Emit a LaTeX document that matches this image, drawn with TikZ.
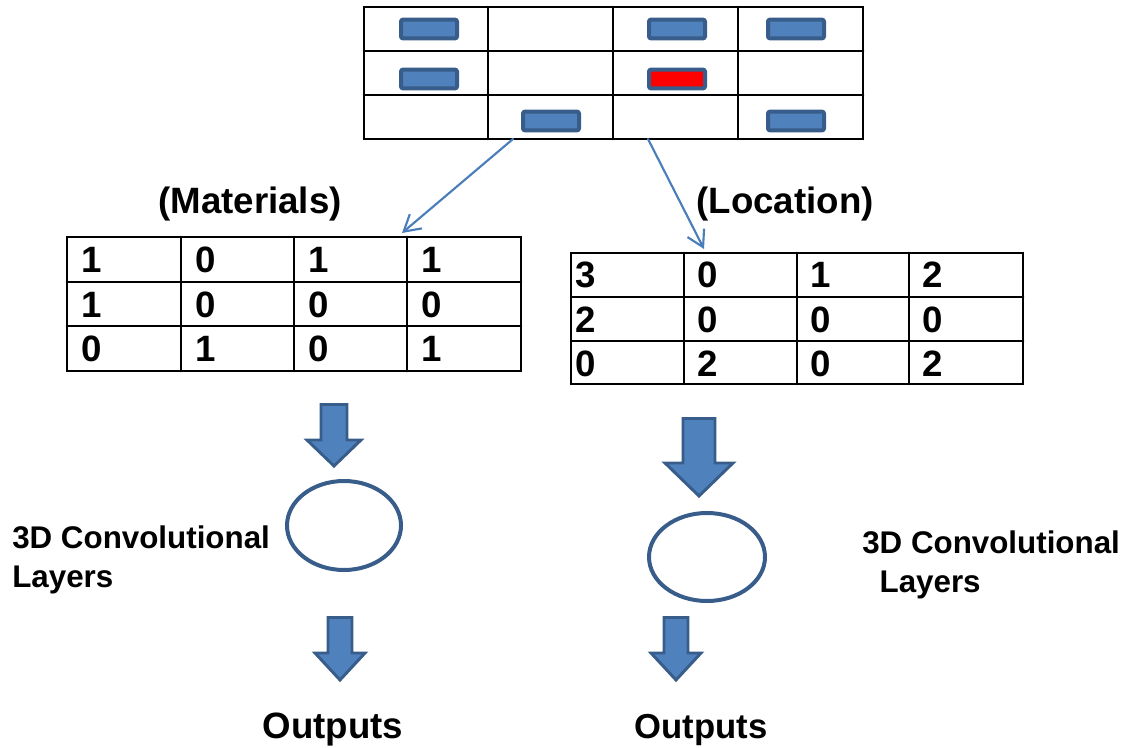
\documentclass[tikz,border=0pt]{standalone}
\usepackage{fontspec}
\setmainfont{Liberation Sans}
\usepackage{tikz}
\usetikzlibrary{arrows.meta}
\definecolor{cellblue}{RGB}{79, 129, 189}
\definecolor{darkblue}{RGB}{56, 93, 138}
\definecolor{lineblue}{RGB}{74, 126, 187}
\definecolor{hotred}{RGB}{255, 0, 0}
\def\bigtext{\fontsize{27.5}{33}\selectfont\bfseries}
\def\midtext{\fontsize{23.5}{29}\selectfont\bfseries}
\tikzset{
  gridline/.style={black, line width=2pt},
  brick/.style={draw=darkblue, fill=cellblue, line width=3pt, rounded corners=1.5pt,
    minimum width=42pt, minimum height=14pt, inner sep=0pt},
  num/.style={anchor=base west, inner sep=0pt, font=\bigtext},
  title/.style={anchor=base, inner sep=0pt, font=\bigtext},
  blockarrow/.style={draw=darkblue, fill=cellblue, line width=2.2pt, line join=miter},
  thinarrow/.style={lineblue, line width=1.6pt, -{Straight Barb[length=12pt, width=14pt]}}
}

\begin{document}
\begin{tikzpicture}[x=0.75pt, y=-0.75pt, line cap=round]

        \useasboundingbox (0, 0) rectangle (1131, 748);

        % top grid
        \draw[gridline] (364, 7) rectangle (863, 139);
        \draw[gridline] (488, 7) -- (488, 139);
        \draw[gridline] (613, 7) -- (613, 139);
        \draw[gridline] (738, 7) -- (738, 139);
        \draw[gridline] (364, 51) -- (863, 51);
        \draw[gridline] (364, 95) -- (863, 95);

        \node[brick] (b11) at (429, 29) {};
        \node[brick] (b13) at (677, 29) {};
        \node[brick] (b14) at (796, 29) {};
        \node[brick] (b21) at (429, 79) {};
        \node[brick, fill=hotred] (b23) at (677, 79) {};
        \node[brick] (b32) at (551, 121) {};
        \node[brick] (b34) at (796, 121) {};

        \coordinate (gridout-l) at (513, 139);
        \coordinate (gridout-r) at (648, 139);
        \coordinate (matin) at (402, 233);
        \coordinate (locin) at (704, 249);

        \draw[thinarrow] (gridout-l) -- (matin);
        \draw[thinarrow] (gridout-r) -- (locin);

        \node[title] (materials) at (250, 214) {(Materials)};
        \node[title] (location) at (785, 214) {(Location)};

        % materials table
        \draw[gridline] (67, 237) rectangle (521, 371);
        \draw[gridline] (181, 237) -- (181, 371);
        \draw[gridline] (294, 237) -- (294, 371);
        \draw[gridline] (407, 237) -- (407, 371);
        \draw[gridline] (67, 282) -- (521, 282);
        \draw[gridline] (67, 326) -- (521, 326);

        \node[num] (m11) at (81.5, 273) {1};
        \node[num] (m12) at (195.5, 273) {0};
        \node[num] (m13) at (308.5, 273) {1};
        \node[num] (m14) at (421.5, 273) {1};
        \node[num] (m21) at (81.5, 318) {1};
        \node[num] (m22) at (195.5, 318) {0};
        \node[num] (m23) at (308.5, 318) {0};
        \node[num] (m24) at (421.5, 318) {0};
        \node[num] (m31) at (81.5, 362) {0};
        \node[num] (m32) at (195.5, 362) {1};
        \node[num] (m33) at (308.5, 362) {0};
        \node[num] (m34) at (421.5, 362) {1};

        % location table
        \draw[gridline] (571, 253) rectangle (1023, 384);
        \draw[gridline] (684, 253) -- (684, 384);
        \draw[gridline] (797, 253) -- (797, 384);
        \draw[gridline] (909, 253) -- (909, 384);
        \draw[gridline] (571, 297) -- (1023, 297);
        \draw[gridline] (571, 341) -- (1023, 341);

        \node[num] (l11) at (575.5, 288) {3};
        \node[num] (l12) at (697, 288) {0};
        \node[num] (l13) at (810, 288) {1};
        \node[num] (l14) at (922, 288) {2};
        \node[num] (l21) at (575.5, 333) {2};
        \node[num] (l22) at (697, 333) {0};
        \node[num] (l23) at (810, 333) {0};
        \node[num] (l24) at (922, 333) {0};
        \node[num] (l31) at (575.5, 377) {0};
        \node[num] (l32) at (697, 377) {2};
        \node[num] (l33) at (810, 377) {0};
        \node[num] (l34) at (922, 377) {2};

        % block arrows
        \draw[blockarrow] (321, 404.5) -- (347, 404.5) -- (347, 440) -- (361, 440)
        -- (334, 466) -- (307, 440) -- (321, 440) -- cycle;
        \draw[blockarrow] (683, 418.5) -- (715, 418.5) -- (715, 463) -- (733, 463)
        -- (699, 496) -- (665, 463) -- (683, 463) -- cycle;
        \draw[blockarrow] (328, 617.5) -- (352, 617.5) -- (352, 653) -- (365, 653)
        -- (340, 680) -- (315, 653) -- (328, 653) -- cycle;
        \draw[blockarrow] (664, 617.5) -- (688, 617.5) -- (688, 653) -- (701, 653)
        -- (676, 680) -- (651, 653) -- (664, 653) -- cycle;

        % convolution layers
        \draw[darkblue, line width=3pt] (344, 525.5) ellipse [x radius=57, y radius=44.5];
        \draw[darkblue, line width=3pt] (707, 557) ellipse [x radius=58, y radius=44];

        \node[anchor=north west, inner sep=0pt, align=left, font=\midtext] (conv-l)
        at (12, 526) {3D Convolutional\\Layers};
        \node[anchor=north west, inner sep=0pt, align=left, font=\midtext] (conv-r)
        at (862, 531) {3D Convolutional\\\hspace*{13pt}Layers};

        \node[title] (out-l) at (333, 738) {Outputs};
        \node[title, font=\fontsize{26}{31}\selectfont\bfseries] (out-r) at (701, 738) {Outputs};

\end{tikzpicture}
\end{document}
